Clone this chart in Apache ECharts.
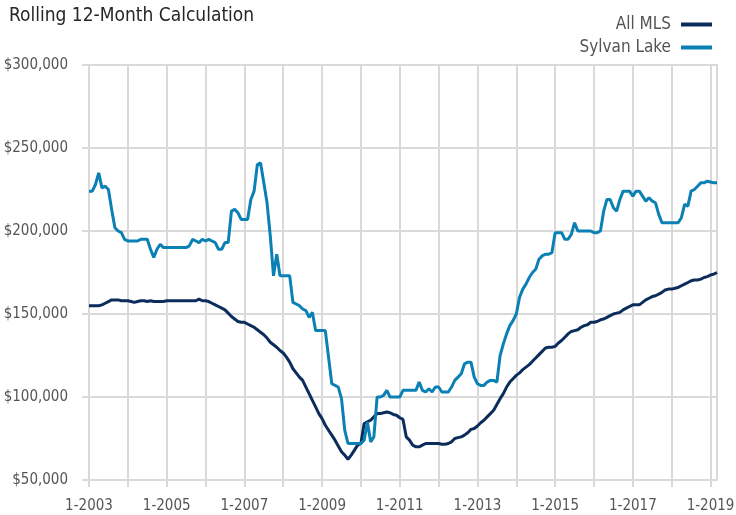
<!DOCTYPE html>
<html>
<head>
    <meta charset="utf-8" />
    <title>Rolling 12-Month Calculation</title>
    <script src="https://cdn.jsdelivr.net/npm/echarts@6/dist/echarts.min.js"></script>
    <style>
        html, body { margin: 0; padding: 0; background: #fff; }
        #container { width: 736px; height: 515px; }
    </style>
</head>
<body>
<div id="container"></div>
<script>
    // monthly, 1-2003 .. 3-2019
    var startYear = 2003;
    var monthCount = 195;
    var seriesNames = ['All MLS', 'Sylvan Lake'];

    // All MLS, in dollars
    var allMls = [
        155000, 155000, 155000, 155000, 155500, 156500, 157500, 158500, 158500, 158500, 158000, 158000,
        158000, 157500, 157000, 157500, 158000, 158000, 157500, 158000, 157500, 157500, 157500, 157500,
        158000, 158000, 158000, 158000, 158000, 158000, 158000, 158000, 158000, 158000, 159000, 158000,
        158000, 157500, 156500, 155500, 154500, 153500, 152500, 150500, 148500, 147000, 145500, 145000,
        145000, 144000, 143000, 142000, 140500, 139000, 137500, 135500, 133000, 131500, 130000, 128000,
        126500, 124000, 121000, 117000, 114500, 112000, 110000, 106000, 102000, 98000, 94000, 90000,
        87000, 83000, 80000, 77000, 74000, 70500, 67000, 65000, 62500, 65000, 68000, 71000,
        72000, 84000, 85000, 86000, 88000, 90000, 90000, 90500, 91000, 90500, 89500, 89000,
        87500, 86500, 76000, 74000, 71000, 70000, 70000, 71000, 72000, 72000, 72000, 72000,
        72000, 71500, 71500, 72000, 73000, 75000, 75500, 76000, 77000, 78500, 80500, 81000,
        82500, 84500, 86000, 88000, 90000, 92000, 95500, 99000, 102000, 106000, 109000, 111000,
        113000, 114500, 116500, 118000, 119500, 121500, 123500, 125500, 127500, 129500, 130000, 130000,
        130500, 132500, 134000, 136000, 138000, 139500, 140000, 140500, 142000, 143000, 143500, 145000,
        145000, 145500, 146500, 147000, 148000, 149000, 150000, 150500, 151000, 152500, 153500, 154500,
        155500, 155500, 155500, 157000, 158500, 159500, 160500, 161000, 162000, 163000, 164500, 165000,
        165000, 165500, 166000, 167000, 168000, 169000, 170000, 170500, 170500, 171000, 172000, 172500,
        173500, 174000, 175000
    ];

    // Sylvan Lake, in dollars
    var sylvanLake = [
        224000, 224000, 228000, 235000, 226000, 227000, 225000, 213000, 202000, 200000, 199000, 195000,
        194000, 194000, 194000, 194000, 195000, 195000, 195000, 189000, 184000, 189000, 192000, 190000,
        190000, 190000, 190000, 190000, 190000, 190000, 190000, 191000, 195000, 194000, 193000, 195000,
        194000, 195000, 194000, 193000, 189000, 189000, 193000, 193000, 212000, 213000, 211000, 207000,
        207000, 207000, 219000, 224000, 240000, 241000, 229000, 217000, 197000, 173000, 186000, 173000,
        173000, 173000, 173000, 157000, 156000, 155000, 153000, 152000, 148000, 151000, 140000, 140000,
        140000, 140000, 124000, 108000, 107000, 106000, 99000, 80000, 72000, 72000, 72000, 72000,
        72000, 74000, 85000, 73000, 76000, 100000, 100000, 101000, 104000, 100000, 100000, 100000,
        100000, 104000, 104000, 104000, 104000, 104000, 109000, 104000, 103000, 105000, 103000, 106000,
        106000, 103000, 103000, 103000, 106000, 110000, 112000, 114000, 120000, 121000, 121000, 112000,
        108000, 107000, 107000, 109000, 110000, 110000, 109000, 125000, 132000, 138000, 143000, 146000,
        150000, 160000, 165000, 168000, 172000, 175000, 177000, 183000, 185000, 186000, 186000, 187000,
        199000, 199000, 199000, 195000, 195000, 198000, 205000, 200000, 200000, 200000, 200000, 200000,
        199000, 199000, 200000, 212000, 219000, 219000, 214000, 212000, 219000, 224000, 224000, 224000,
        221000, 224000, 224000, 221000, 218000, 220000, 218000, 217000, 210000, 205000, 205000, 205000,
        205000, 205000, 205000, 208000, 216000, 215000, 224000, 225000, 227000, 229000, 229000, 230000,
        229500, 229000, 229000
    ];

    var yMin = 50000, yMax = 300000, yStep = 50000;

    var months = [];
    for (var i = 0; i < monthCount; i++) {
        months.push((i % 12 + 1) + '-' + (startYear + Math.floor(i / 12)));
    }

    function money(v) {
        return '$' + String(v).replace(/\B(?=(\d{3})+(?!\d))/g, ',');
    }

    var font = "'DejaVu Sans Condensed', 'Liberation Sans', sans-serif";
    var gridColor = '#d9d9d9';

    var myChart = echarts.init(document.getElementById('container'));
    var option = {
        backgroundColor: '#fff',
        animation: false,
        title: {
            text: 'Rolling 12-Month Calculation',
            left: 4,
            top: 2,
            textStyle: { fontFamily: font, fontSize: 19, fontWeight: 'normal', color: '#262626' }
        },
        legend: {
            data: seriesNames,
            orient: 'vertical',
            right: 19,
            top: 11,
            align: 'right',
            itemGap: 6,
            itemWidth: 31,
            itemHeight: 4,
            icon: 'rect',
            textStyle: { fontFamily: font, fontSize: 17, color: '#555', padding: [0, 5, 0, 0] }
        },
        grid: {
            left: 89, right: 19, top: 65, bottom: 35,
            outerBoundsMode: 'none',
            containLabel: false,
            show: true,
            borderColor: gridColor,
            borderWidth: 2
        },
        xAxis: {
            type: 'category',
            data: months,
            boundaryGap: false,
            axisLine: { show: false },
            axisTick: {
                show: true, length: 7,
                interval: function (idx) { return idx % 12 === 0; },
                lineStyle: { color: gridColor, width: 2 }
            },
            splitLine: {
                show: true,
                interval: function (idx) { return idx % 12 === 0; },
                lineStyle: { color: gridColor, width: 2 }
            },
            axisLabel: {
                interval: function (idx) { return idx % 24 === 0; },
                margin: 19,
                fontFamily: font, fontSize: 15, color: '#555'
            }
        },
        yAxis: {
            type: 'value',
            min: yMin, max: yMax, interval: yStep,
            axisLine: { show: false },
            axisTick: { show: true, length: 7, lineStyle: { color: gridColor, width: 2 } },
            splitLine: { lineStyle: { color: gridColor, width: 2 } },
            axisLabel: {
                margin: 21,
                formatter: money,
                fontFamily: font, fontSize: 15, color: '#555'
            }
        },
        series: [
            {
                name: seriesNames[0],
                type: 'line',
                data: allMls,
                showSymbol: false,
                color: '#0c2d5c',
                lineStyle: { width: 3, color: '#0c2d5c' }
            },
            {
                name: seriesNames[1],
                type: 'line',
                data: sylvanLake,
                showSymbol: false,
                color: '#0a80b5',
                lineStyle: { width: 3, color: '#0a80b5' }
            }
        ]
    };
    myChart.setOption(option);
</script>
</body>
</html>
